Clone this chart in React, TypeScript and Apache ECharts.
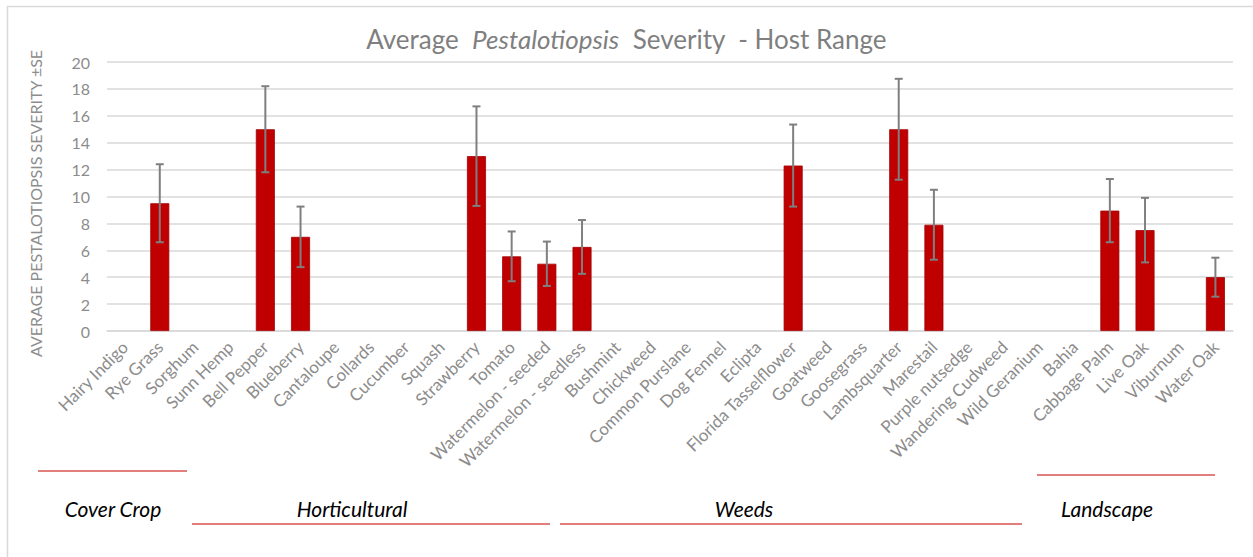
import React, { useEffect, useRef } from "react";
import * as echarts from "echarts";

const hosts = [
  "Hairy Indigo", "Rye Grass", "Sorghum", "Sunn Hemp", "Bell Pepper", "Blueberry",
  "Cantaloupe", "Collards", "Cucumber", "Squash", "Strawberry", "Tomato",
  "Watermelon - seeded", "Watermelon - seedless", "Bushmint", "Chickweed",
  "Common Purslane", "Dog Fennel", "Eclipta", "Florida Tasselflower", "Goatweed",
  "Goosegrass", "Lambsquarter", "Marestail", "Purple nutsedge", "Wandering Cudweed",
  "Wild Geranium", "Bahia", "Cabbage Palm", "Live Oak", "Viburnum", "Water Oak",
];

const severity: (number | null)[] = [
  null, 9.5, null, null, 15.0, 7.0,
  null, null, null, null, 13.0, 5.55,
  5.0, 6.25, null, null,
  null, null, null, 12.3, null,
  null, 15.0, 7.9, null, null,
  null, null, 8.95, 7.5, null, 4.0,
];

const se: (number | null)[] = [
  null, 2.9, null, null, 3.2, 2.25,
  null, null, null, null, 3.7, 1.85,
  1.65, 2.0, null, null,
  null, null, null, 3.05, null,
  null, 3.75, 2.6, null, null,
  null, null, 2.35, 2.4, null, 1.45,
];

const yTicks = { min: 0, max: 20, interval: 2 };

const groups = [
  { name: "Cover Crop", textX: 113, lineX1: 38, lineX2: 187, lineY: 471 },
  { name: "Horticultural", textX: 352, lineX1: 192, lineX2: 550, lineY: 524 },
  { name: "Weeds", textX: 744, lineX1: 560, lineX2: 1022, lineY: 524 },
  { name: "Landscape", textX: 1107, lineX1: 1037, lineX2: 1215, lineY: 475 },
];

const FONT = "Lato, 'Open Sans', sans-serif";

export default function App() {
  const ref = useRef<HTMLDivElement>(null);

  useEffect(() => {
    if (!ref.current) return;
    const chart = echarts.init(ref.current, null, { renderer: "svg" });

    const errData = severity
      .map((v, i) =>
        v == null || se[i] == null ? null : [i, v - (se[i] as number), v + (se[i] as number)]
      )
      .filter((d) => d !== null);

    const graphics: any[] = [
      {
        type: "rect",
        shape: { x: 7.5, y: 6.5, width: 1260, height: 560 },
        style: { fill: "none", stroke: "#d9d9d9", lineWidth: 1.5 },
        silent: true,
        z: -1,
      },
    ];
    groups.forEach((g) => {
      graphics.push({
        type: "line",
        shape: { x1: g.lineX1, y1: g.lineY, x2: g.lineX2, y2: g.lineY },
        style: { stroke: "#d9534f", lineWidth: 1.3 },
        silent: true,
      });
      graphics.push({
        type: "text",
        x: g.textX,
        y: 508,
        style: {
          text: g.name,
          fontFamily: FONT,
          fontStyle: "italic",
          fontSize: 21,
          fill: "#000000",
          align: "center",
          verticalAlign: "middle",
        },
        silent: true,
      });
    });

    chart.setOption({
      animation: false,
      backgroundColor: "#ffffff",
      title: {
        text: "{n|Average  }{i|Pestalotiopsis}{n|  Severity  - Host Range}",
        left: "center",
        top: 21,
        textStyle: {
          fontWeight: "normal",
          rich: {
            n: { fontFamily: FONT, fontSize: 26, color: "#7f7f7f", fontWeight: "normal" },
            i: { fontFamily: FONT, fontSize: 26, color: "#7f7f7f", fontStyle: "italic", fontWeight: "normal" },
          },
        },
      },
      grid: { left: 107, right: 20, top: 62, bottom: 226, containLabel: false },
      xAxis: {
        type: "category",
        data: hosts,
        axisLine: { show: true, lineStyle: { color: "#d9d9d9", width: 1.5 } },
        axisTick: { show: false },
        axisLabel: {
          interval: 0,
          rotate: 45,
          fontFamily: FONT,
          fontSize: 17,
          color: "#8c8c8c",
          margin: 13,
        },
      },
      yAxis: {
        type: "value",
        min: yTicks.min,
        max: yTicks.max,
        interval: yTicks.interval,
        name: "AVERAGE PESTALOTIOPSIS SEVERITY ±SE",
        nameLocation: "middle",
        nameGap: 64,
        nameTextStyle: { fontFamily: FONT, fontSize: 16, color: "#8c8c8c", padding: [0, 0, 0, -14] },
        axisLine: { show: false },
        axisTick: { show: false },
        axisLabel: { fontFamily: FONT, fontSize: 16, color: "#8c8c8c", margin: 17 },
        splitLine: { lineStyle: { color: "#d9d9d9", width: 1.5 } },
      },
      series: [
        {
          type: "bar",
          data: severity,
          barWidth: 19,
          itemStyle: { color: "#c00000", borderColor: "#a50000", borderWidth: 0.8 },
          z: 2,
        },
        {
          type: "custom",
          data: errData,
          encode: { x: 0, y: [1, 2] },
          z: 3,
          renderItem: (params: any, api: any) => {
            const x = api.value(0);
            const lo = api.coord([x, api.value(1)]);
            const hi = api.coord([x, api.value(2)]);
            const cap = 4;
            const style = { stroke: "#7f7f7f", lineWidth: 2 };
            return {
              type: "group",
              children: [
                { type: "line", shape: { x1: hi[0], y1: hi[1], x2: lo[0], y2: lo[1] }, style },
                { type: "line", shape: { x1: hi[0] - cap, y1: hi[1], x2: hi[0] + cap, y2: hi[1] }, style },
                { type: "line", shape: { x1: lo[0] - cap, y1: lo[1], x2: lo[0] + cap, y2: lo[1] }, style },
              ],
            };
          },
        },
      ],
      graphic: graphics,
    });

    return () => chart.dispose();
  }, []);

  return (
    <div
      ref={ref}
      style={{ position: "absolute", left: 0, top: 0, width: 1253, height: 557 }}
    />
  );
}
